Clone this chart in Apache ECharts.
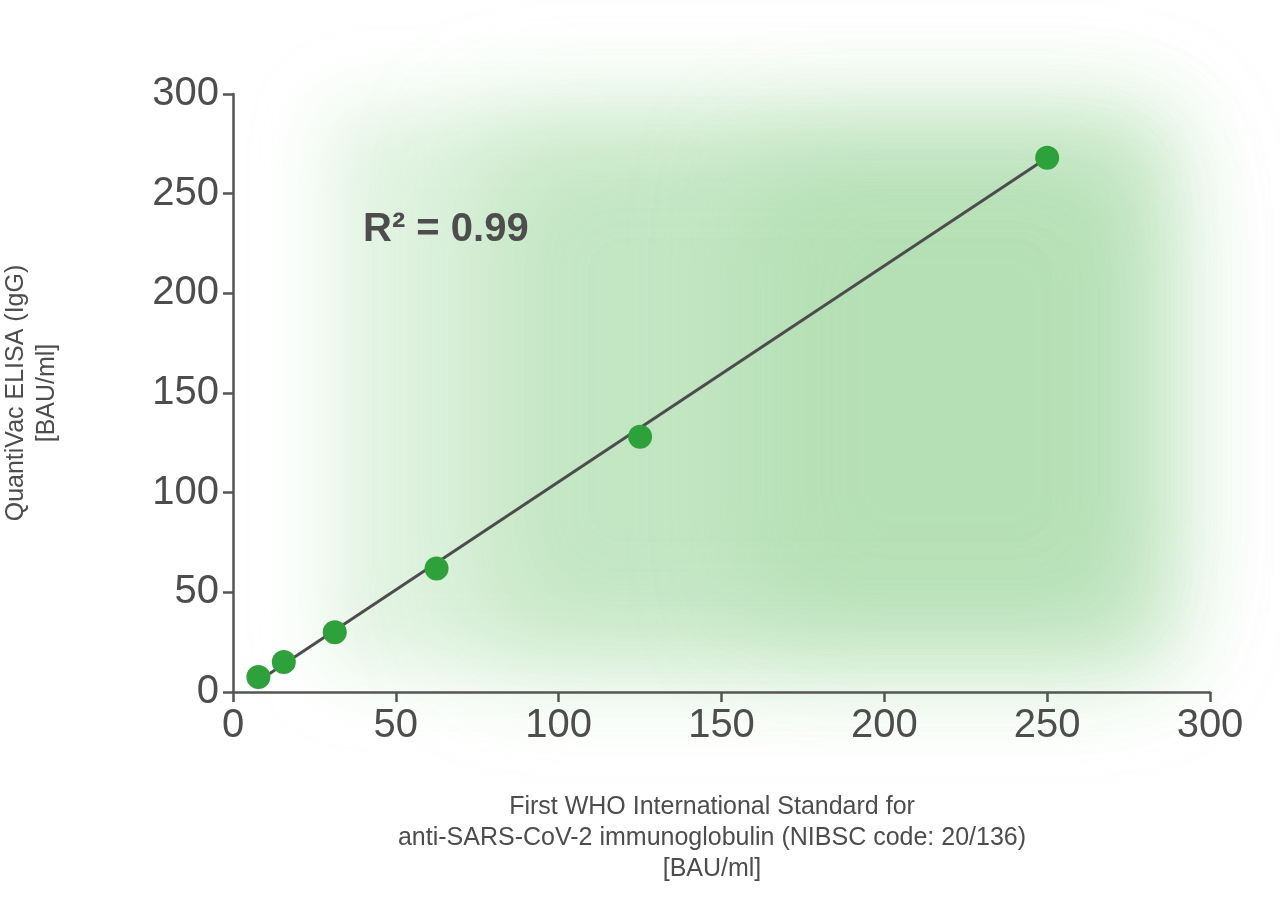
<!DOCTYPE html>
<html><head><meta charset="utf-8">
<script src="https://cdn.jsdelivr.net/npm/echarts@6/dist/echarts.min.js"></script>
<style>html,body{margin:0;background:#fff}#c{width:1280px;height:904px}</style>
</head><body><div id="c"></div>
<script>
var xTicks = [0, 300, 50];
var pointsX = [7.8, 15.6, 31.25, 62.5, 125, 250];
var pointsY = [7.5, 15, 30, 62, 128, 268];
var fitLine = [[7.8, 5.5], [250, 268]];
var r2Text = 'R² = 0.99';

// soft glow: rect drawn off screen, only its blurred shadow lands on the chart
function glow(x, y, w, h, color, blur) {
    return {type: 'rect', z: -10, silent: true,
        shape: {x: x - 3000, y: y, width: w, height: h},
        style: {fill: '#fff', shadowBlur: blur, shadowColor: color, shadowOffsetX: 3000}};
}

var chart = echarts.init(document.getElementById('c'));
var axisCol = '#555';
chart.setOption({
    animation: false,
    grid: {left: 233, right: 70, top: 94, bottom: 212, containLabel: false, outerBoundsMode: 'none'},
    graphic: [
        glow(330, 110, 840, 560, 'rgba(170,220,170,0.35)', 70),
        glow(480, 130, 680, 520, 'rgba(150,210,150,0.4)', 110),
        glow(750, 150, 400, 480, 'rgba(150,210,150,0.3)', 110),
        {type: 'text', left: 363, top: 210, z: 10,
         style: {text: r2Text, font: 'bold 40px "Liberation Sans", Arial', fill: '#4d4d4d'}},
        {type: 'text', z: 10,
         style: {text: 'First WHO International Standard for\nanti-SARS-CoV-2 immunoglobulin (NIBSC code: 20/136)\n[BAU/ml]',
                 x: 712, y: 792, textAlign: 'center',
                 font: '25px "Liberation Sans", Arial', fill: '#4d4d4d', lineHeight: 31}}
    ],
    xAxis: {
        type: 'value', min: xTicks[0], max: xTicks[1], interval: xTicks[2],
        splitLine: {show: false},
        axisLine: {lineStyle: {color: axisCol, width: 2.5}},
        axisTick: {length: 10, lineStyle: {color: axisCol, width: 2.5}},
        axisLabel: {fontSize: 40, color: '#4d4d4d', margin: 14, fontFamily: 'Liberation Sans'}
    },
    yAxis: {
        type: 'value', min: 0, max: 300, interval: 50,
        splitLine: {show: false},
        axisLine: {show: true, lineStyle: {color: axisCol, width: 2.5}},
        axisTick: {show: true, length: 10, lineStyle: {color: axisCol, width: 2.5}},
        axisLabel: {fontSize: 40, color: '#4d4d4d', margin: 14, fontFamily: 'Liberation Sans'},
        name: 'EUROIMMUN-Anti-SARS-CoV-2\nQuantiVac ELISA (IgG)\n[BAU/ml]',
        nameLocation: 'middle', nameGap: 170, nameRotate: 90,
        nameTextStyle: {fontSize: 25, color: '#4d4d4d', lineHeight: 31, fontFamily: 'Liberation Sans'}
    },
    series: [
        {type: 'line', data: fitLine, symbol: 'none', z: 2,
         lineStyle: {color: '#4d4d4d', width: 3}},
        {type: 'scatter', z: 3, symbolSize: 24,
         data: pointsX.map(function(x, i){ return [x, pointsY[i]]; }),
         itemStyle: {color: '#2ea23a', opacity: 1}}
    ]
});
</script></body></html>
